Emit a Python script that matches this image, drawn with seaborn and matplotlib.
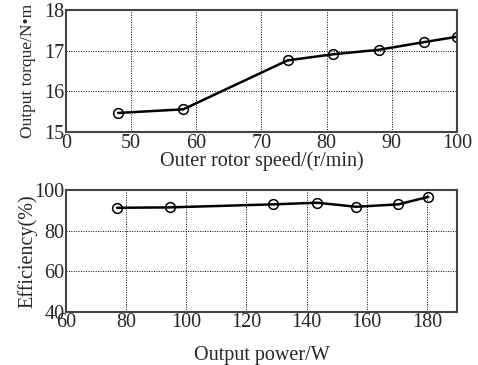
import matplotlib
matplotlib.use("Agg")
import matplotlib.pyplot as plt
import seaborn as sns
import pandas as pd

speed = [48, 58, 74, 81, 88, 95, 100]
torque = [15.47, 15.56, 16.76, 16.91, 17.02, 17.21, 17.34]
power = [77, 94.5, 129, 143.5, 156.5, 170.5, 180.5]
eff = [91.3, 91.5, 93.0, 93.8, 91.8, 93.0, 96.7]
top_xticks = [40, 50, 60, 70, 80, 90, 100]
top_xlabels = ["0", "50", "60", "70", "80", "90", "100"]
top_yticks = [15, 16, 17, 18]
bot_xticks = [60, 80, 100, 120, 140, 160, 180]
bot_yticks = [40, 60, 80, 100]

sns.set_style("white")
plt.rcParams['font.family'] = ['Liberation Serif', 'DejaVu Serif']

fig = plt.figure(figsize=(4.78, 3.65), dpi=100)
ax1 = fig.add_axes([0.138, 0.638, 0.818, 0.335])
ax2 = fig.add_axes([0.138, 0.146, 0.818, 0.333])

df1 = pd.DataFrame({"speed": speed, "torque": torque})
df2 = pd.DataFrame({"power": power, "eff": eff})

kw = dict(color="black", linewidth=1.8, marker="o", markersize=7,
          markerfacecolor="none", markeredgecolor="black", markeredgewidth=1.1)
sns.lineplot(data=df1, x="speed", y="torque", ax=ax1, **kw)
sns.lineplot(data=df2, x="power", y="eff", ax=ax2, **kw)

fs = 14.5
ax1.set_xlim(40, 100)
ax1.set_ylim(15, 18)
ax1.set_xticks(top_xticks)
ax1.set_xticklabels(top_xlabels)
ax1.set_yticks(top_yticks)
ax1.set_xlabel("Outer rotor speed/(r/min)", fontsize=fs, labelpad=-1)
ax1.set_ylabel("Output torque/N\u2022m", fontsize=12.5, labelpad=6)

ax2.set_xlim(60, 190)
ax2.set_ylim(40, 100)
ax2.set_xticks(bot_xticks)
ax2.set_yticks(bot_yticks)
ax2.set_xlabel("Output power/W", fontsize=fs, labelpad=10)
ax2.set_ylabel("Efficiency(%)", fontsize=fs, labelpad=-2)

for ax in (ax1, ax2):
    ax.grid(True, color="black", linestyle=(0, (1, 1.5)), linewidth=0.7)
    ax.tick_params(direction="in", length=4, width=1, labelsize=fs, pad=1,
                   color="#333333")
    for s in ax.spines.values():
        s.set_color("#444444")
        s.set_linewidth(1.5)

fig.savefig("out.png", dpi=100)
